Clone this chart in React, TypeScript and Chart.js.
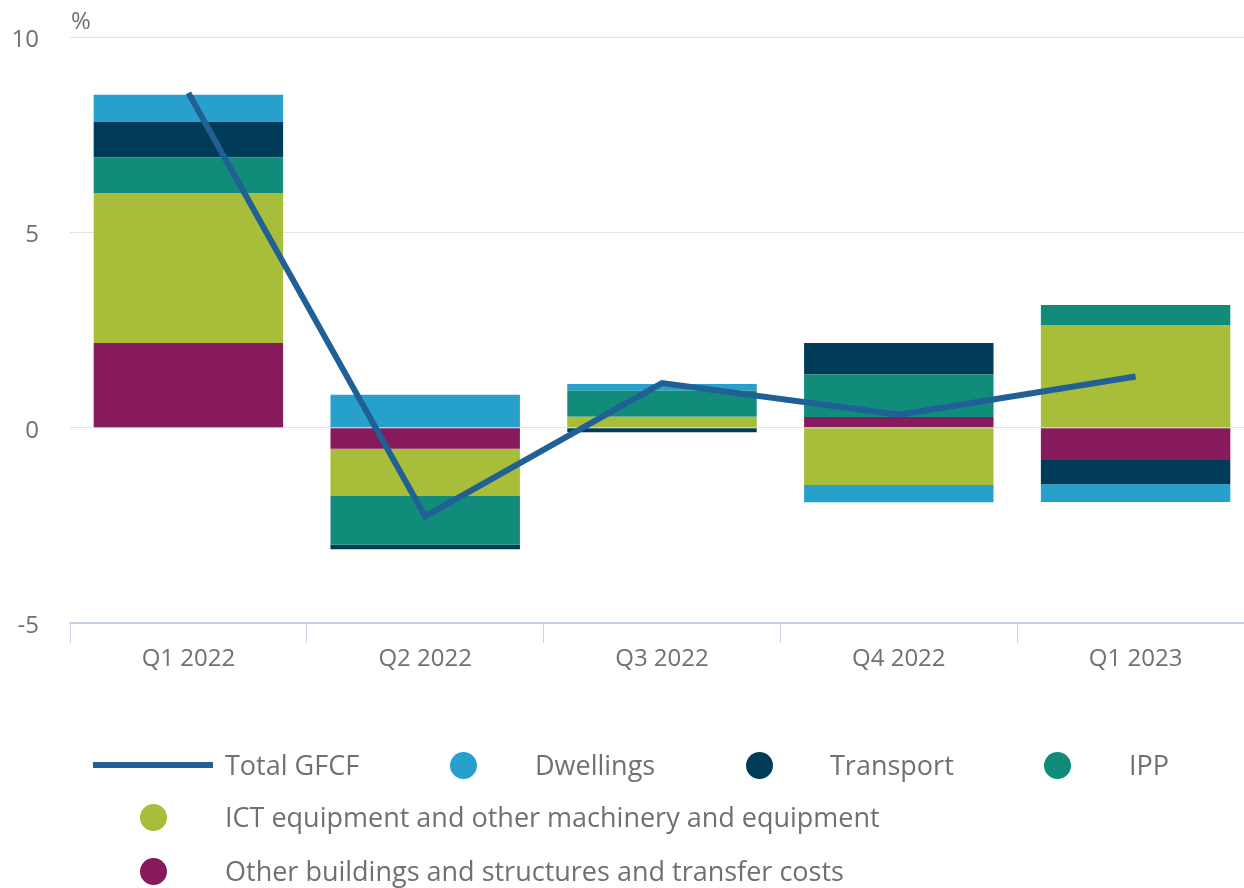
import React, { useEffect, useRef } from "react";
import { Chart, registerables } from "chart.js";

Chart.register(...registerables);

const categories = ["Q1 2022", "Q2 2022", "Q3 2022", "Q4 2022", "Q1 2023"];
const otherBuildings = [2.17, -0.54, 0, 0.27, -0.83];
const ictEquipment = [3.84, -1.21, 0.28, -1.47, 2.63];
const ipp = [0.91, -1.25, 0.67, 1.09, 0.51];
const transport = [0.91, -0.11, -0.12, 0.81, -0.62];
const dwellings = [0.69, 0.84, 0.17, -0.44, -0.45];
const totalGFCF = [8.57, -2.27, 1.14, 0.33, 1.31];
const yTicks = [-5, 0, 5, 10];

const COLORS = {
  total: "#206095",
  dwellings: "#27a0cc",
  transport: "#003c57",
  ipp: "#118c7b",
  ict: "#a8bd3a",
  other: "#871a5b",
};
const TEXT = "#707071";
const FONT = "'Open Sans', 'Noto Sans', sans-serif";

const percentPlugin = {
  id: "percentLabel",
  afterDraw(chart: any) {
    const { ctx, chartArea } = chart;
    ctx.save();
    ctx.font = `24px ${FONT}`;
    ctx.fillStyle = TEXT;
    ctx.textAlign = "left";
    ctx.textBaseline = "middle";
    ctx.fillText("%", chartArea.left + 1, 22);
    ctx.restore();
  },
};

const legendItems = [
  { label: "Total GFCF", type: "line", color: COLORS.total, sx: 93, tx: 225, cy: 765 },
  { label: "Dwellings", type: "dot", color: COLORS.dwellings, sx: 463, tx: 535, cy: 765 },
  { label: "Transport", type: "dot", color: COLORS.transport, sx: 759, tx: 830, cy: 765 },
  { label: "IPP", type: "dot", color: COLORS.ipp, sx: 1057, tx: 1129, cy: 765 },
  { label: "ICT equipment and other machinery and equipment", type: "dot", color: COLORS.ict, sx: 153, tx: 225, cy: 817 },
  { label: "Other buildings and structures and transfer costs", type: "dot", color: COLORS.other, sx: 153, tx: 225, cy: 871 },
];

export default function App() {
  const ref = useRef<HTMLCanvasElement | null>(null);

  useEffect(() => {
    if (!ref.current) return;
    const mk = (label: string, data: number[], color: string) => ({
      type: "bar" as const,
      label,
      data,
      backgroundColor: color,
      borderWidth: 0,
      stack: "bars",
      order: 1,
      categoryPercentage: 0.8,
      barPercentage: 1.0,
    });
    const chart = new Chart(ref.current, {
      type: "bar",
      data: {
        labels: categories,
        datasets: [
          {
            type: "line" as const,
            label: "Total GFCF",
            data: totalGFCF,
            borderColor: COLORS.total,
            backgroundColor: COLORS.total,
            borderWidth: 6,
            pointRadius: 0,
            tension: 0,
            stack: "line",
            order: 0,
          } as any,
          mk("Other buildings and structures and transfer costs", otherBuildings, COLORS.other),
          mk("ICT equipment and other machinery and equipment", ictEquipment, COLORS.ict),
          mk("IPP", ipp, COLORS.ipp),
          mk("Transport", transport, COLORS.transport),
          mk("Dwellings", dwellings, COLORS.dwellings),
        ],
      },
      options: {
        responsive: false,
        animation: false,
        layout: { padding: { top: 37, left: 0, right: 4, bottom: 0 } },
        plugins: {
          legend: { display: false },
          tooltip: { enabled: false },
        },
        events: [],
        scales: {
          x: {
            stacked: true,
            afterFit: (s: any) => {
              s.height = 888 - 623;
              s.paddingLeft = 0;
              s.paddingRight = 0;
            },
            grid: {
              display: true,
              drawOnChartArea: false,
              drawTicks: true,
              tickLength: 20,
              color: "#c8d3e6",
              lineWidth: 1,
            },
            border: { display: true, color: "#c8d3e6", width: 2 },
            ticks: {
              color: TEXT,
              font: { family: FONT, size: 24 },
              padding: 2,
              maxRotation: 0,
            },
          },
          y: {
            stacked: true,
            min: -5,
            max: 10,
            afterFit: (s: any) => {
              s.width = 70;
              s.paddingTop = 0;
              s.paddingBottom = 0;
            },
            afterBuildTicks: (s: any) => {
              s.ticks = yTicks.map((v) => ({ value: v }));
            },
            grid: {
              color: "#e3e3e3",
              lineWidth: 1,
              drawTicks: false,
            },
            border: { display: false },
            ticks: {
              color: TEXT,
              font: { family: FONT, size: 24 },
              padding: 31,
              labelOffset: 3,
            },
          },
        },
      },
      plugins: [percentPlugin],
    });
    return () => chart.destroy();
  }, []);

  return (
    <div
      style={{
        position: "absolute",
        left: 0,
        top: 0,
        width: 1244,
        height: 888,
        overflow: "hidden",
        background: "#fff",
        fontFamily: FONT,
      }}
    >
      <canvas ref={ref} width={1258} height={888} style={{ width: 1258, height: 888, display: "block" }} />
      {legendItems.map((it) => (
        <React.Fragment key={it.label}>
          {it.type === "line" ? (
            <div
              style={{
                position: "absolute",
                left: it.sx,
                top: it.cy - 3,
                width: 120,
                height: 6,
                background: it.color,
              }}
            />
          ) : (
            <div
              style={{
                position: "absolute",
                left: it.sx - 13.5,
                top: it.cy - 13.5,
                width: 27,
                height: 27,
                borderRadius: "50%",
                background: it.color,
              }}
            />
          )}
          <div
            style={{
              position: "absolute",
              left: it.tx,
              top: it.cy - 20,
              height: 40,
              lineHeight: "40px",
              fontSize: 27,
              color: TEXT,
              whiteSpace: "nowrap",
            }}
          >
            {it.label}
          </div>
        </React.Fragment>
      ))}
    </div>
  );
}
